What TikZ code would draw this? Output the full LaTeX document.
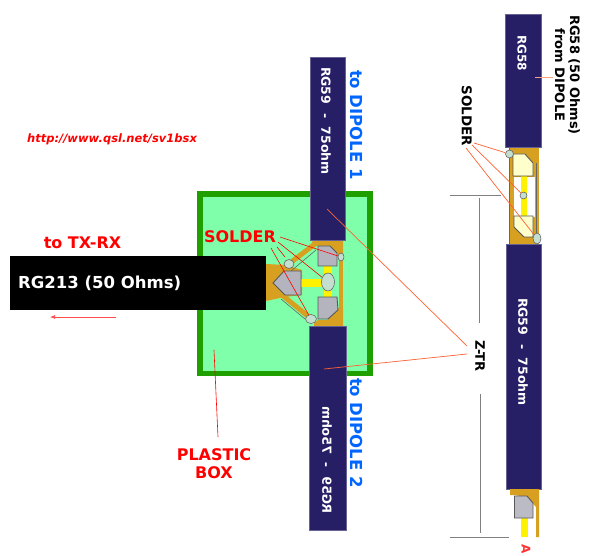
\documentclass[tikz,border=0pt]{standalone}
\usepackage{fontspec}
\setmainfont{DejaVu Sans}
\usetikzlibrary{arrows.meta, positioning, shapes.geometric}
\definecolor{coaxblue}{HTML}{261F66}
\definecolor{braidcol}{HTML}{D8A020}
\definecolor{boxgreen}{HTML}{1FA000}
\definecolor{boxfill}{HTML}{80FFAA}
\definecolor{metalcol}{HTML}{B4B4BE}
\definecolor{blobcol}{HTML}{C4DED0}
\definecolor{leadcol}{HTML}{FF6030}
\definecolor{palecol}{HTML}{FFFFCC}
\definecolor{tocol}{HTML}{0066FF}
\tikzset{
  coax/.style={fill=coaxblue,draw=coaxblue!70!white,line width=0.4pt},
  braid/.style={fill=braidcol,draw=none},
  metal/.style={fill=metalcol,draw=black!65,line width=0.9pt},
  pale/.style={fill=palecol,draw=black!65,line width=0.9pt},
  core/.style={fill=yellow,draw=none},
  blob/.style={ellipse,draw=black!60,fill=blobcol,line width=0.6pt,inner sep=0pt},
  leader/.style={leadcol,line width=0.7pt},
  dimline/.style={black!50,line width=0.9pt},
  lbl/.style={font=\bfseries\fontsize{#1}{#1}\selectfont,inner sep=0pt},
  redlbl/.style={lbl=#1,text=red,align=center},
  vlbl/.style={lbl=#1,rotate=-90}
}

\begin{document}
\begin{tikzpicture}[x=1pt,y=-1pt]
\useasboundingbox (0,0) rectangle (600,556);

% plastic box
\draw[boxgreen,line width=5.5pt,fill=boxfill] (200,194) rectangle (370,373.5);

% main coax and its braid
\fill[braid] (266,264) -- (285,265) -- (302,270) -- (302,295) -- (285,297) -- (266,301) -- cycle;
\draw[braidcol,line width=5pt] (286,266) -- (315,244);
\draw[braidcol,line width=5pt] (282,295) -- (309,317);
\draw[black!60,line width=0.6pt] (291,271) -- (316,250);
\draw[black!60,line width=0.6pt] (281,299) -- (305,319);
\fill[black] (10,256) rectangle (266,310);

% dipole side braids
\fill[braid] (313,240) -- (343,240) -- (343,255) -- (338,255) -- (330,247) -- (318,246) -- (311,245) -- cycle;
\fill[braid] (339,255) rectangle (343,308);
\fill[braid] (314,326) -- (343,326) -- (343,308) -- (338,308) -- (335,313) -- (327,320) -- (318,320) -- (314,323) -- cycle;

% inner conductors
\fill[core] (300,279) rectangle (322,287);
\fill[core] (324,266) rectangle (332,297);

% metal pieces
\draw[metal] (273,283) -- (284,271) -- (301,271) -- (301,295) -- (285,295) -- cycle;
\draw[metal] (318,246) -- (330,246) -- (337,253) -- (337,266) -- (318,266) -- cycle;
\draw[metal] (318,297) -- (337,297) -- (338,310) -- (328,319) -- (318,319) -- cycle;

% solder points, box
\node[blob,minimum width=13pt,minimum height=18pt] (solderC) at (328,282) {};
\node[blob,minimum width=10pt,minimum height=9pt] (solderA) at (289,264) {};
\node[blob,minimum width=11pt,minimum height=9pt] (solderB) at (311,319) {};
\node[blob,minimum width=6pt,minimum height=8pt] (solderD) at (341,257) {};

% dipole cables
\fill[coax] (310,57) rectangle (345,240);
\fill[coax] (309,326) rectangle (346,530);
\node[vlbl=12.5,text=white] (rgtop) at (326,121) {RG59\ \ -\ \ 75ohm};
\node[vlbl=12.5,text=white,xscale=-1] (rgbottom) at (327,460) {RG59\ \ -\ \ 75ohm};
\node[vlbl=16.5,text=tocol] (dipone) at (357,125) {to DIPOLE 1};
\node[vlbl=16.5,text=tocol] (diptwo) at (357,433) {to DIPOLE 2};

% texts on the left
\node[lbl=16.5,text=white,anchor=west] (rgmain) at (18,283) {RG213 (50 Ohms)};
\node[redlbl=16] (totx) at (82.5,243) {to TX-RX};
\node[font=\itshape\bfseries\fontsize{11.5}{11.5}\selectfont,text=red,inner sep=0pt] (web) at (112,139) {http://www.qsl.net/sv1bsx};
\coordinate (arrowstart) at (116,317);
\coordinate (arrowend) at (50,317);
\draw[-{Latex[length=5pt,width=4pt]},red!70,line width=0.7pt] (arrowstart) -- (arrowend);
\node[redlbl=16] (solderL) at (240,237) {SOLDER};
\node[redlbl=16] (boxL) at (214,464) {PLASTIC\\[2pt]BOX};

% red leaders, box
\coordinate (la) at (280,237);
\coordinate (lb) at (278,242);
\coordinate (lc) at (277,247);
\coordinate (ld) at (271,248);
\foreach \a/\b in {la/solderD, lb/solderC, ld/solderB}{
  \draw[red,line width=0.6pt] (\a) -- (\b);
}
\draw[red,line width=0.6pt] (lc) -- (285,257);
\coordinate (boxtip) at (214,350);
\coordinate (boxend) at (218,437);
\draw[red,line width=0.6pt] (boxtip) -- (boxend);

% right assembly
\fill[braid] (509,148) rectangle (539,244);
\fill[white] (514,177) rectangle (535,217);
\draw[black!60,line width=0.8pt] (509.5,148) -- (509.5,244);
\draw[black!60,line width=0.8pt] (536,163) -- (536,238);
\fill[core] (520.5,176) rectangle (527,216);
\draw[pale] (513,154) -- (525,154) -- (533,163) -- (533,176) -- (513,176) -- cycle;
\draw[pale] (514,216) -- (533,216) -- (533,237) -- (524,237) -- (514,227) -- cycle;
\fill[coax] (505,14) rectangle (541,147);
\fill[coax] (506,244) rectangle (541.5,489);
\node[blob,minimum width=8pt,minimum height=8pt] (solderE) at (509.5,154) {};
\node[blob,minimum width=7pt,minimum height=7pt] (solderF) at (523.5,195.5) {};
\node[blob,minimum width=8pt,minimum height=11pt] (solderG) at (537,238.5) {};
\node[vlbl=12,text=white] (rgshort) at (522,53) {RG58};
\node[vlbl=12.5,text=white] (rgright) at (523,352) {RG59\ \ -\ \ 75ohm};
\node[vlbl=13,align=center] (fromL) at (567.5,75) {RG58 (50 Ohms)\\[2pt]from DIPOLE};
\node[vlbl=13.5] (solderR) at (466.7,115.7) {SOLDER};
\coordinate (lre) at (474,143);
\coordinate (lrf) at (472,145);
\coordinate (lrg) at (466,148);
\foreach \a/\b in {lre/solderE, lrf/solderF, lrg/solderG}{
  \draw[leader] (\a) -- (\b);
}
\coordinate (rgtip) at (535,77);
\coordinate (rgend) at (553,77);
\draw[leadcol!60,line width=0.6pt] (rgtip) -- (rgend);

% lower end of right cable
\fill[braid] (510,489) -- (539,489) -- (539,537) -- (536,537) -- (536,507) -- (527,497) -- (514,495) -- (510,495) -- cycle;
\fill[core] (521,518) rectangle (528,537);
\fill[metalcol!90!white,draw=black!65,line width=0.9pt] (514.5,496) -- (527,496) -- (533,503) -- (533,518) -- (514.5,518) -- cycle;
\node[vlbl=12,text=red!80!white] (endA) at (526,549) {A};

% z-tr marks
\node[vlbl=13] (ztr) at (480,356) {Z-TR};
\coordinate (ztrup) at (327,209);
\coordinate (ztrdown) at (324,369);
\coordinate (ztra) at (467,346);
\coordinate (ztrb) at (467,354);
\draw[leader] (ztrup) -- (ztra);
\draw[leader] (ztrdown) -- (ztrb);
\coordinate (dimtl) at (450,195);
\coordinate (dimtr) at (501,195);
\coordinate (dimbl) at (450,537);
\coordinate (dimbr) at (509,537);
\draw[dimline] (dimtl) -- (dimtr);
\draw[dimline] (dimbl) -- (dimbr);
\draw[dimline] (479,198) -- (479,323);
\draw[dimline] (480,394) -- (480,533);

\end{tikzpicture}
\end{document}
